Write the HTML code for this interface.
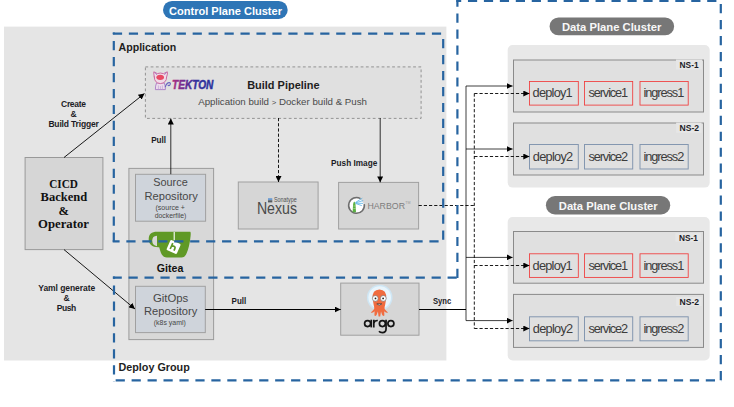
<!DOCTYPE html>
<html><head><meta charset="utf-8">
<style>
html,body{margin:0;padding:0;background:#fff;width:734px;height:407px;overflow:hidden}
svg{display:block;font-family:"Liberation Sans",sans-serif}
.b{font-weight:bold}
.lbl{font-weight:bold;font-size:8.5px;fill:#1c1c26}
.res{font-size:12.8px;fill:#3c3c3c}
.ns{font-weight:bold;font-size:8.5px;fill:#1c1c26}
.rp{fill:#474747}
</style></head>
<body>
<svg width="734" height="407" viewBox="0 0 734 407">
<defs>
  <marker id="ah" viewBox="0 0 10 10" refX="10" refY="5" markerWidth="6" markerHeight="6" markerUnits="userSpaceOnUse" orient="auto">
    <path d="M0,0 L10,5 L0,10 z" fill="#000"/>
  </marker>
  <linearGradient id="tk" x1="0" x2="1" y1="0" y2="0">
    <stop offset="0" stop-color="#b0307e"/>
    <stop offset="0.3" stop-color="#6c2c92"/>
    <stop offset="0.55" stop-color="#34309c"/>
    <stop offset="1" stop-color="#28309c"/>
  </linearGradient>
  <linearGradient id="cat" x1="0" x2="1" y1="0" y2="1">
    <stop offset="0" stop-color="#b888c8"/>
    <stop offset="0.5" stop-color="#d85a8a"/>
    <stop offset="1" stop-color="#6a58b8"/>
  </linearGradient>
</defs>

<!-- main gray panel -->
<rect x="4" y="26.6" width="442.4" height="333.9" fill="#e5e5e5"/>

<!-- control plane pill -->
<rect x="163" y="0.9" width="124.7" height="18.1" rx="9" fill="#2e75b6"/>
<text x="169" y="14.5" class="b" font-size="11.7" fill="#fff" textLength="113" lengthAdjust="spacingAndGlyphs">Control Plane Cluster</text>

<!-- build pipeline dotted box -->
<rect x="145.4" y="66.9" width="275.7" height="51.5" fill="#e0e0e0" stroke="#8a8a8a" stroke-width="0.9" stroke-dasharray="2.8,2.45"/>
<!-- tekton logo -->
<g stroke-linejoin="round" stroke-linecap="round">
  <path d="M156.4,83.3 Q155.2,86 155.4,89.6 L165.4,89.6 Q165.6,86 164.4,83.3 z" fill="#ecdcec" stroke="#a87cc4" stroke-width="0.9"/>
  <path d="M158.4,85.8 L158.4,89.5 M160.4,86.5 L160.4,89.5 M162.4,85.8 L162.4,89.5" stroke="#b898d0" stroke-width="0.6"/>
  <path d="M165.3,86.8 Q166.5,82.8 169.3,82.6 Q171.3,83.3 169.6,85.3 Q168.8,86 168,85.2" fill="none" stroke="#6a62c0" stroke-width="1.1"/>
  <path d="M154.3,77 Q153.6,74 153.8,71.8 L157.3,73.6 Q160.3,72.5 163.5,73.6 L167.3,71.8 Q167.8,74 166.6,77 Q166.6,83 160.4,83.6 Q154.2,83 154.3,77 z" fill="#f0dbe8" stroke="#cc6aa0" stroke-width="1"/>
  <ellipse cx="160.2" cy="77.3" rx="3.8" ry="2.6" fill="#e84a64"/>
  <path d="M155,72.6 L156.6,74.6 M166.2,72.6 L164.6,74.6" stroke="#a070c0" stroke-width="0.8"/>
</g>
<text x="172" y="88.9" font-size="12" font-weight="bold" font-style="italic" fill="url(#tk)" stroke="url(#tk)" stroke-width="0.45" textLength="41.4" lengthAdjust="spacingAndGlyphs">TEKTON</text>
<text x="247.2" y="88.8" class="b" font-size="11.5" fill="#1e1e1e" textLength="72.4" lengthAdjust="spacingAndGlyphs">Build Pipeline</text>
<text x="198.2" y="105.1" font-size="9.4" fill="#4a4a4a" textLength="168.8" lengthAdjust="spacingAndGlyphs">Application build <tspan font-size="7.5">&gt;</tspan> Docker build &amp; Push</text>

<!-- CICD box -->
<rect x="25.1" y="157.5" width="77.8" height="92.1" fill="#d6d6d6" stroke="#999" stroke-width="1"/>
<g font-family="Liberation Serif,serif" font-weight="bold" font-size="12.5" fill="#111" text-anchor="middle">
  <text x="63.55" y="188" textLength="28.7" lengthAdjust="spacingAndGlyphs">CICD</text>
  <text x="63.9" y="201" textLength="46.6" lengthAdjust="spacingAndGlyphs">Backend</text>
  <text x="63.65" y="214.6">&amp;</text>
  <text x="63.5" y="227.6" textLength="50.8" lengthAdjust="spacingAndGlyphs">Operator</text>
</g>

<!-- Gitea box -->
<rect x="128.9" y="168.4" width="84.7" height="171.2" fill="#d8d8d8" stroke="#9c9c9c" stroke-width="1"/>
<rect x="135.5" y="174.3" width="70.1" height="46.9" fill="#cfd4db" stroke="#a0a0a0" stroke-width="1"/>
<g class="rp">
  <text x="153.2" y="186.3" font-size="11.5" textLength="34.5" lengthAdjust="spacingAndGlyphs">Source</text>
  <text x="144.5" y="200.4" font-size="11.5" textLength="53.2" lengthAdjust="spacingAndGlyphs">Repository</text>
  <text x="155.5" y="209.7" font-size="7" textLength="29.4" lengthAdjust="spacingAndGlyphs">(source  +</text>
  <text x="154.7" y="218.3" font-size="7" textLength="31.7" lengthAdjust="spacingAndGlyphs">dockerfile)</text>
</g>
<!-- gitea logo -->
<g>
  <path d="M157,231.8 L190.2,231.8 Q191,232 190.6,236 Q189.5,247 186.5,253.5 Q184.8,257.5 181.5,257.5 L167,257.5 Q163,257.5 161,253 Q159.8,249.5 159.2,247.2 C152,247.5 148.6,244 148.7,239 C148.8,234 151.5,231.8 157,231.8 z" fill="#609926"/>
  <path d="M157,235.8 L157,246.2 Q152.4,245.6 152.2,240.8 Q152.2,236 157,235.8 z" fill="#d8d8d8"/>
  <line x1="174.2" y1="232" x2="174.2" y2="240.5" stroke="#fff" stroke-width="1.1"/>
  <g transform="translate(173.6,247) rotate(24)">
    <rect x="-5.6" y="-5.6" width="11.2" height="11.2" rx="1.3" fill="#fff"/>
    <path d="M-2.3,-3.2 L-2.3,3.2 M-2.3,-0.3 Q1.8,-1.8 1.8,1 L1.8,3.2" stroke="#609926" stroke-width="1.7" fill="none"/>
  </g>
</g>
<text x="156.8" y="271.6" class="b" font-size="11" fill="#111" textLength="26.5" lengthAdjust="spacingAndGlyphs">Gitea</text>

<!-- GitOps repo -->
<rect x="135.5" y="286.3" width="69.8" height="46.3" fill="#cfd4db" stroke="#a0a0a0" stroke-width="1"/>
<g class="rp">
  <text x="152.9" y="301.9" font-size="11.5" textLength="35.4" lengthAdjust="spacingAndGlyphs">GitOps</text>
  <text x="144" y="315.3" font-size="11.5" textLength="53.3" lengthAdjust="spacingAndGlyphs">Repository</text>
  <text x="153.8" y="324.6" font-size="7" textLength="32" lengthAdjust="spacingAndGlyphs">(k8s yaml)</text>
</g>

<!-- Nexus box -->
<rect x="238.3" y="182" width="79.8" height="47" fill="#d6d6d6" stroke="#a0a0a0" stroke-width="1"/>
<rect x="268" y="198.2" width="4.3" height="2.1" fill="#6a9ad0"/>
<rect x="268" y="200.3" width="4.3" height="2.1" fill="#555a60"/>
<text x="274" y="202.4" font-size="6.4" fill="#505050" textLength="22.8" lengthAdjust="spacingAndGlyphs">Sonatype</text>
<text x="256.9" y="213.5" font-size="16.4" fill="#4a4a4a" textLength="40.1" lengthAdjust="spacingAndGlyphs">Nexus</text>

<!-- Harbor box -->
<rect x="338.6" y="182.4" width="80" height="46.6" fill="#d6d6d6" stroke="#a0a0a0" stroke-width="1"/>
<circle cx="356.5" cy="205.5" r="7.2" fill="#fff"/>
<path d="M364.3,204.1 A7.9,7.9 0 1 1 360.5,198.6" fill="none" stroke="#6e6e6e" stroke-width="1.5"/>
<path d="M352.6,212.2 L353.1,204 L353.6,202.6 L354.3,201.6 L355,202.6 L355.5,204 L356,212.2 z" fill="#5bb043"/>
<path d="M353.4,206 L355.7,206 M353.3,208.5 L355.8,208.5" stroke="#b8e0a8" stroke-width="0.6"/>
<path d="M355.6,202.4 L362.3,198.2 M355.6,202.8 L363.2,200.6 M355.6,203.2 L363,203.4 M355.6,203.5 L361.8,205.6" stroke="#55b0e4" stroke-width="0.8"/>
<text x="367.4" y="208.8" font-size="8.5" fill="#7d7d7d" textLength="37.6" lengthAdjust="spacingAndGlyphs">HARBOR</text>
<text x="405.3" y="204" font-size="3.6" fill="#999">TM</text>

<!-- Argo box -->
<rect x="340.7" y="283.1" width="78.3" height="52.1" fill="#d6d6d6" stroke="#a0a0a0" stroke-width="1"/>
<circle cx="379.7" cy="297.6" r="12.8" fill="#cfe6f4"/>
<circle cx="379.7" cy="297.6" r="11.3" fill="#e9f5fc"/>
<path d="M372.6,298.5 Q372,289.8 379.4,289.6 Q386.8,289.8 386.2,298.5 L385.2,304.5 Q384.4,307 384.6,309 Q386.5,311 388,312.5 Q385.6,313.2 384.2,311.2 L384.4,315.6 Q382.9,316.6 382,314.6 L381,311.6 L380.2,316.6 L378.6,316.6 L377.9,311.6 L376.8,314.6 Q375.9,316.6 374.4,315.6 L374.6,311.2 Q373.2,313.2 370.8,312.5 Q372.3,311 374.2,309 Q374.4,307 373.6,304.5 z" fill="#f06c40"/>
<circle cx="375.3" cy="298.4" r="2.9" fill="#fff" stroke="#666" stroke-width="0.6"/>
<circle cx="383.3" cy="298.4" r="2.9" fill="#fff" stroke="#666" stroke-width="0.6"/>
<circle cx="375.5" cy="298.4" r="0.9" fill="#222"/>
<circle cx="383.1" cy="298.4" r="0.9" fill="#222"/>
<path d="M376.8,303.9 q2.5,2.6 5,0 z" fill="#fff" stroke="#333" stroke-width="0.7"/>
<g fill="none" stroke="#141414" stroke-width="1.7">
  <circle cx="367.6" cy="323.55" r="3.0"/>
  <line x1="371.25" y1="319.7" x2="371.25" y2="327.4"/>
  <path d="M373.8,327.4 L373.8,319.7 M373.8,323.3 Q374.2,320.4 377.8,320.5"/>
  <circle cx="382.4" cy="323.55" r="3.0"/>
  <path d="M386.05,319.7 L386.05,329 Q386,332.6 382.4,332.6 Q380,332.6 379,331.2"/>
  <circle cx="390.9" cy="323.55" r="3.0"/>
</g>

<!-- Data plane cluster 1 -->
<rect x="549.6" y="17.4" width="124.5" height="17.9" rx="8.9" fill="#777777"/>
<text x="562" y="30.5" class="b" font-size="11" fill="#f8f8f8" textLength="99.3" lengthAdjust="spacingAndGlyphs">Data Plane Cluster</text>
<rect x="507.7" y="45" width="202" height="142.6" rx="5" fill="#e8e8e8"/>
<rect x="513.5" y="60" width="190" height="52" fill="#e0e0e0" stroke="#8a8a8a" stroke-width="1"/>
<rect x="676" y="59.5" width="26" height="10" fill="#e6e6e6"/>
<text x="679.6" y="68.3" class="ns" textLength="19" lengthAdjust="spacingAndGlyphs">NS-1</text>
<rect x="513.5" y="123" width="190" height="52" fill="#e0e0e0" stroke="#8a8a8a" stroke-width="1"/>
<rect x="676.1" y="122.6" width="25.5" height="10.3" fill="#e6e6e6"/>
<text x="679.6" y="131" class="ns" textLength="19.5" lengthAdjust="spacingAndGlyphs">NS-2</text>

<!-- Data plane cluster 2 -->
<rect x="545.9" y="196.1" width="124.3" height="18.3" rx="9.1" fill="#777777"/>
<text x="558.8" y="209.5" class="b" font-size="11" fill="#f8f8f8" textLength="98.9" lengthAdjust="spacingAndGlyphs">Data Plane Cluster</text>
<rect x="507.7" y="217.1" width="202" height="143.3" rx="5" fill="#e8e8e8"/>
<rect x="513.5" y="231.5" width="190" height="51.7" fill="#e0e0e0" stroke="#8a8a8a" stroke-width="1"/>
<rect x="675.4" y="233.2" width="25.4" height="8.4" fill="#e6e6e6"/>
<text x="678.9" y="240.7" class="ns" textLength="18.9" lengthAdjust="spacingAndGlyphs">NS-1</text>
<rect x="513.5" y="294.4" width="190" height="53" fill="#e0e0e0" stroke="#8a8a8a" stroke-width="1"/>
<rect x="676.1" y="297" width="25.5" height="9" fill="#e6e6e6"/>
<text x="679.6" y="305.1" class="ns" textLength="19.5" lengthAdjust="spacingAndGlyphs">NS-2</text>

<!-- resource boxes -->
<g fill="#e0e0e0" stroke-width="1">
  <rect x="529.5" y="81.5" width="48.8" height="23.6" stroke="#f03a3a" stroke-width="0.85"/>
  <rect x="584.5" y="81.5" width="48.2" height="23.6" stroke="#f03a3a" stroke-width="0.85"/>
  <rect x="640" y="81.5" width="48.2" height="23.6" stroke="#f03a3a" stroke-width="0.85"/>
  <rect x="529.5" y="144.5" width="48.8" height="24.5" stroke="#8497b0"/>
  <rect x="584.5" y="144.5" width="48.2" height="24.5" stroke="#8497b0"/>
  <rect x="640" y="144.5" width="48.2" height="24.5" stroke="#8497b0"/>
  <rect x="529.5" y="253.8" width="48.8" height="23.6" stroke="#f03a3a" stroke-width="0.85"/>
  <rect x="584.5" y="253.8" width="48.2" height="23.6" stroke="#f03a3a" stroke-width="0.85"/>
  <rect x="640" y="253.8" width="48.2" height="23.6" stroke="#f03a3a" stroke-width="0.85"/>
  <rect x="529.5" y="316.8" width="48.8" height="24" stroke="#8497b0"/>
  <rect x="584.5" y="316.8" width="48.2" height="24" stroke="#8497b0"/>
  <rect x="640" y="316.8" width="48.2" height="24" stroke="#8497b0"/>
</g>
<g class="res" lengthAdjust="spacingAndGlyphs">
  <text x="532.6" y="97.1" textLength="40.1">deploy1</text><text x="588.5" y="97.1" textLength="39.7">service1</text><text x="643.4" y="97.1" textLength="40.9">ingress1</text>
  <text x="532.8" y="160.9" textLength="40.4">deploy2</text><text x="588.5" y="160.9" textLength="39.7">service2</text><text x="643.4" y="160.9" textLength="40.9">ingress2</text>
  <text x="532.6" y="269.5" textLength="40.1">deploy1</text><text x="588.5" y="269.5" textLength="39.7">service1</text><text x="643.4" y="269.5" textLength="40.9">ingress1</text>
  <text x="532.8" y="333.2" textLength="40.4">deploy2</text><text x="588.5" y="333.2" textLength="39.7">service2</text><text x="643.4" y="333.2" textLength="40.9">ingress2</text>
</g>

<!-- connectors -->
<g stroke="#000" stroke-width="0.8" fill="none">
  <line x1="64" y1="157.5" x2="144.5" y2="93.5" stroke-width="0.9" marker-end="url(#ah)"/>
  <line x1="64" y1="249.6" x2="135" y2="309" stroke-width="0.9" marker-end="url(#ah)"/>
  <line x1="170.8" y1="174.2" x2="170.8" y2="118.5" marker-end="url(#ah)"/>
  <line x1="380.2" y1="118" x2="380.2" y2="182.4" marker-end="url(#ah)"/>
  <line x1="205.2" y1="309.5" x2="340.7" y2="309.5" stroke-width="1" marker-end="url(#ah)"/>
  <line x1="419" y1="309.5" x2="466" y2="309.5" stroke-width="1"/>
  <line x1="466" y1="86" x2="466" y2="320.6" stroke-width="0.75"/>
  <line x1="466" y1="86" x2="512.6" y2="86" stroke-width="0.75" marker-end="url(#ah)"/>
  <line x1="466" y1="149" x2="512.6" y2="149" stroke-width="0.75" marker-end="url(#ah)"/>
  <line x1="466" y1="257.4" x2="512.6" y2="257.4" stroke-width="0.75" marker-end="url(#ah)"/>
  <line x1="466" y1="320.6" x2="512.6" y2="320.6" stroke-width="0.75" marker-end="url(#ah)"/>
  <g stroke-dasharray="3.2,2" stroke-width="0.9">
    <line x1="278.5" y1="118" x2="278.5" y2="182" marker-end="url(#ah)"/>
    <line x1="418.6" y1="205.5" x2="474.5" y2="205.5"/>
    <line x1="474.3" y1="93.5" x2="474.3" y2="328.6"/>
    <line x1="474.3" y1="93.5" x2="529.3" y2="93.5" marker-end="url(#ah)"/>
    <line x1="474.3" y1="156.5" x2="529.3" y2="156.5" marker-end="url(#ah)"/>
    <line x1="474.3" y1="265.5" x2="529.3" y2="265.5" marker-end="url(#ah)"/>
    <line x1="474.3" y1="328.5" x2="529.3" y2="328.5" marker-end="url(#ah)"/>
  </g>
</g>

<!-- labels -->
<g class="lbl" text-anchor="middle" lengthAdjust="spacingAndGlyphs">
  <text x="73.5" y="106.8" textLength="24.8">Create</text>
  <text x="73.6" y="116.6">&amp;</text>
  <text x="73.6" y="127" textLength="50.4">Build Trigger</text>
  <text x="66.75" y="290.9" textLength="56.9">Yaml generate</text>
  <text x="66.6" y="300.7">&amp;</text>
  <text x="66.45" y="310.9" textLength="19.3">Push</text>
</g>
<text x="151.2" y="143" class="lbl" textLength="14.9" lengthAdjust="spacingAndGlyphs">Pull</text>
<text x="331.1" y="166.3" class="lbl" textLength="46.2" lengthAdjust="spacingAndGlyphs">Push Image</text>
<text x="231.6" y="304.4" class="lbl" textLength="14.7" lengthAdjust="spacingAndGlyphs">Pull</text>
<text x="433" y="303.9" class="lbl" textLength="18.3" lengthAdjust="spacingAndGlyphs">Sync</text>

<!-- dashed group boxes -->
<g fill="none" stroke="#2764a0" stroke-width="2.2" stroke-dasharray="9.2,6.75">
  <line x1="112.7" y1="33.7" x2="444.3" y2="33.7" stroke-dashoffset="15.75"/>
  <line x1="443.2" y1="32.6" x2="443.2" y2="242.4" stroke-dashoffset="9.45"/>
  <line x1="112.7" y1="241.3" x2="444.3" y2="241.3" stroke-dashoffset="2.30"/>
  <line x1="113.8" y1="32.6" x2="113.8" y2="242.4" stroke-dashoffset="7.45"/>
  <line x1="112.9" y1="277.6" x2="458.5" y2="277.6" stroke-dashoffset="0.30"/>
  <line x1="457.4" y1="-0.20000000000000007" x2="457.4" y2="278.70000000000005" stroke-dashoffset="2.15"/>
  <line x1="456.29999999999995" y1="0.9" x2="721.9" y2="0.9" stroke-dashoffset="4.30"/>
  <line x1="720.8" y1="-0.20000000000000007" x2="720.8" y2="381.40000000000003" stroke-dashoffset="11.65"/>
  <line x1="112.9" y1="380.3" x2="721.9" y2="380.3" stroke-dashoffset="13.20"/>
  <line x1="114.0" y1="276.5" x2="114.0" y2="381.40000000000003" stroke-dashoffset="6.95"/>
</g>
<text x="118.5" y="50.6" class="b" font-size="11" fill="#1e1e1e" textLength="57.8" lengthAdjust="spacingAndGlyphs">Application</text>
<text x="118.5" y="370.5" class="b" font-size="11" fill="#1e1e1e" textLength="71.3" lengthAdjust="spacingAndGlyphs">Deploy Group</text>
</svg>
</body></html>
